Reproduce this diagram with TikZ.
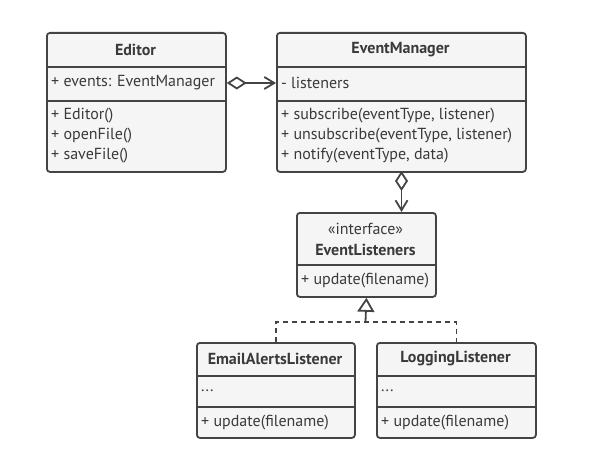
\documentclass[tikz,border=0pt]{standalone}
\usepackage{fontspec}
\setmainfont{PT Sans}
\usetikzlibrary{arrows.meta}
\definecolor{ink}{HTML}{444444}
\definecolor{txtc}{HTML}{3A3A3A}
\definecolor{boxfill}{HTML}{F5F5F5}
\begin{document}
\begin{tikzpicture}[x=1pt,y=-1pt,
  cls/.style={draw=ink, fill=boxfill, line width=1.8pt, rounded corners=3pt, anchor=north west, inner sep=0pt},
  div/.style={draw=ink, line width=1.8pt},
  hd/.style={font=\fontsize{16}{18}\selectfont\bfseries, text=txtc, inner sep=0pt},
  ltxt/.style={font=\fontsize{16}{20}\selectfont, text=txtc, anchor=west, align=left, inner sep=0pt},
  conn/.style={draw=ink, line width=1.8pt},
  agg/.style={conn, {Diamond[open, length=20pt, width=13pt, line width=1.8pt]}-{Straight Barb[length=10pt, width=12pt, line width=1.8pt]}},
  real/.style={conn, -{Triangle[open, length=14pt, width=17pt, line width=1.8pt]}},
  dsh/.style={conn, dash pattern=on 5pt off 4pt}
]
\useasboundingbox (0,0) rectangle (610,460);

% Editor
\node[cls, minimum width=179pt, minimum height=139pt] (ed) at (46,32) {};
\draw[div] (ed.west |- 0,67) -- (ed.east |- 0,67);
\draw[div] (ed.west |- 0,101) -- (ed.east |- 0,101);
\node[hd] (edh) at (135.5,50) {Editor};
\node[ltxt] (eda) at (51,83) {+ events: EventManager};
\node[ltxt] (edm) at (51,136) {+ Editor()\\+ openFile()\\+ saveFile()};

% EventManager
\node[cls, minimum width=249pt, minimum height=139pt] (em) at (276,32) {};
\draw[div] (em.west |- 0,67) -- (em.east |- 0,67);
\draw[div] (em.west |- 0,101) -- (em.east |- 0,101);
\node[hd] (emh) at (400.5,50) {EventManager};
\node[ltxt] (ema) at (281,83) {- listeners};
\node[ltxt] (emm) at (281,136) {+ subscribe(eventType, listener)\\+ unsubscribe(eventType, listener)\\+ notify(eventType, data)};

% EventListeners
\node[cls, minimum width=139pt, minimum height=84pt] (el) at (296,212) {};
\draw[div] (el.west |- 0,265) -- (el.east |- 0,265);
\node[ltxt, anchor=center, font=\fontsize{16}{18}\selectfont] (els) at (365.5,229) {«interface»};
\node[hd] (elh) at (365.5,250) {EventListeners};
\node[ltxt] (elm) at (301,281) {+ update(filename)};

% EmailAlertsListener
\node[cls, minimum width=158pt, minimum height=95pt] (ea) at (196,342) {};
\draw[div] (ea.west |- 0,376) -- (ea.east |- 0,376);
\draw[div] (ea.west |- 0,407) -- (ea.east |- 0,407);
\node[hd] (eah) at (275,359) {EmailAlertsListener};
\node[ltxt] (eaa) at (201,391) {...};
\node[ltxt] (eam) at (201,423) {+ update(filename)};

% LoggingListener
\node[cls, minimum width=159pt, minimum height=95pt] (lg) at (376,342) {};
\draw[div] (lg.west |- 0,376) -- (lg.east |- 0,376);
\draw[div] (lg.west |- 0,407) -- (lg.east |- 0,407);
\node[hd] (lgh) at (455.5,359) {LoggingListener};
\node[ltxt] (lga) at (381,391) {...};
\node[ltxt] (lgm) at (381,423) {+ update(filename)};

% connectors
\draw[agg] (ed.east |- eda) -- (em.west |- eda);
\coordinate (emb) at (401.5,171);
\draw[agg] (emb) -- (emb |- el.north);
\coordinate (jn) at (365.5,322);
\draw[dsh] (ea.north) -- (ea.north |- jn) -- (lg.north |- jn) -- (lg.north);
\draw[real] (jn) -- (el.south);
\end{tikzpicture}
\end{document}
